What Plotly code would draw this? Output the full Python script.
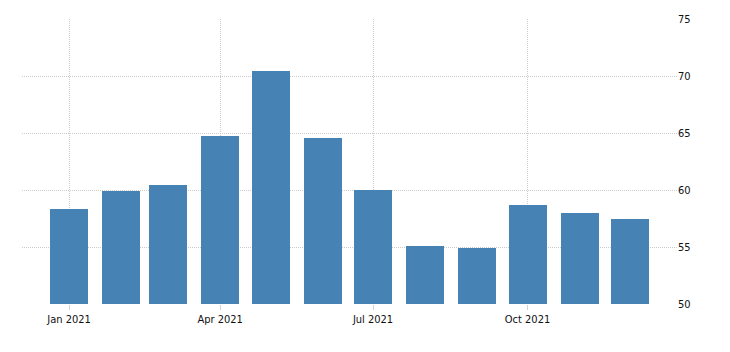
import plotly.graph_objects as go

months = ["2021-01-01", "2021-02-01", "2021-03-01", "2021-04-01", "2021-05-01", "2021-06-01",
          "2021-07-01", "2021-08-01", "2021-09-01", "2021-10-01", "2021-11-01", "2021-12-01"]
values = [58.3, 59.9, 60.4, 64.7, 70.4, 64.6, 60.0, 55.1, 54.9, 58.7, 58.0, 57.5]
y_ticks = [50, 55, 60, 65, 70, 75]

DAY_MS = 86400000

fig = go.Figure(go.Bar(
    x=months, y=values,
    width=[22.6 * DAY_MS] * len(values),
    marker=dict(color="#4682B4", line=dict(width=0)),
    hoverinfo="x+y",
))

fig.update_layout(
    width=730, height=352,
    margin=dict(l=22, r=53, t=19, b=48),
    paper_bgcolor="white", plot_bgcolor="white",
    showlegend=False,
    font=dict(family="DejaVu Sans Condensed, sans-serif", size=11, color="#111111"),
    bargap=0,
)
fig.update_xaxes(
    type="date",
    range=["2020-12-04", "2021-12-29"],
    tick0="2021-01-01", dtick="M3", tickformat="%b %Y",
    showgrid=True, gridcolor="#cccccc", griddash="1px,1px", gridwidth=1,
    ticks="outside", ticklen=5, tickcolor="#d3d3d3",
    showline=False, zeroline=False,
)
fig.update_yaxes(
    side="right",
    range=[50, 75],
    tickvals=y_ticks,
    showgrid=True, gridcolor="#cccccc", griddash="1px,1px", gridwidth=1,
    showline=False, zeroline=False, ticks="",
)

fig.write_html("out.html")
